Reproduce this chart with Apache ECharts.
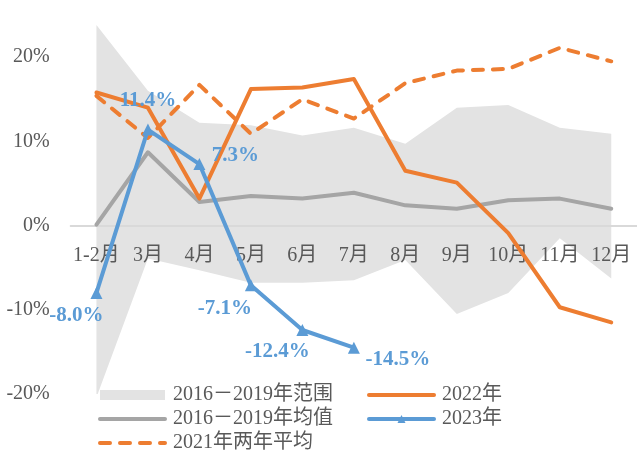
<!DOCTYPE html>
<html lang="zh">
<head>
<meta charset="UTF-8">
<title>2016-2023 月度增速</title>
<script src="https://cdn.jsdelivr.net/npm/echarts@6/dist/echarts.min.js"></script>
<style>
  html, body { margin: 0; padding: 0; background: #fff; }
  #main { width: 637px; height: 453px; }
</style>
</head>
<body>
<div id="main"></div>
<script>
// 月份
var months = ['1-2月', '3月', '4月', '5月', '6月', '7月', '8月', '9月', '10月', '11月', '12月'];
// 2016-2019 范围（上下限）
var rangeHigh = [23.8, 16.0, 12.2, 11.9, 10.7, 11.6, 9.7, 14.0, 14.3, 11.6, 10.9];
var rangeLow  = [-20.4, -3.9, -5.3, -6.8, -6.8, -6.5, -4.1, -10.5, -8.0, -1.5, -6.3];
// 2016-2019 均值
var avgData = [0.1, 8.7, 2.8, 3.5, 3.2, 3.9, 2.4, 2.0, 3.0, 3.2, 2.0];
// 2022年
var y2022 = [15.8, 14.0, 3.2, 16.2, 16.4, 17.4, 6.5, 5.1, -0.9, -9.7, -11.5];
// 2021年两年平均
var y2021 = [15.4, 10.4, 16.7, 10.9, 15.0, 12.7, 16.9, 18.4, 18.6, 21.1, 19.5];
// 2023年
var y2023 = [-8.0, 11.4, 7.3, -7.1, -12.4, -14.5];
// y轴刻度
var yTicks = [-20, -10, 0, 10, 20];

// 2023 标签偏移（样式）
var labelOffsets = [[-20, 23], [0, -29], [36, -8], [-26, 23], [-25, 22], [44, 12]];

var serif = "'Liberation Serif', 'Times New Roman', 'Noto Sans CJK SC', serif";
var txtColor = '#595959';
var yMin = -20, yMax = 25;
var gridTop = 15, gridH = 379;

var rangeDiff = [];
for (var i = 0; i < rangeHigh.length; i++) {
  rangeDiff.push(+(rangeHigh[i] - rangeLow[i]).toFixed(2));
}
var d2023 = [];
for (var i = 0; i < y2023.length; i++) {
  d2023.push({ value: y2023[i], label: { offset: labelOffsets[i] } });
}
// x轴放在0%位置
var zeroOffset = -gridH * (0 - yMin) / (yMax - yMin);

var legendText = { fontFamily: serif, fontSize: 20, color: txtColor, lineHeight: 20, padding: [0, 0, 0, 3] };
var legendLine = { width: 4, cap: 'round' };
var noSymbol = { opacity: 0 };

var myChart = echarts.init(document.getElementById('main'));
var option = {
  animation: false,
  grid: { left: 70.7, top: gridTop, width: 572, height: gridH },
  legend: [
    {
      orient: 'vertical', left: 98, top: 385, itemGap: 4, padding: 0,
      itemWidth: 65, itemHeight: 10, textStyle: legendText, lineStyle: legendLine,
      data: [
        { name: '2016－2019年范围', icon: 'rect' },
        { name: '2016－2019年均值', itemStyle: noSymbol },
        { name: '2021年两年平均', itemStyle: noSymbol }
      ]
    },
    {
      orient: 'vertical', left: 367, top: 385, itemGap: 4, padding: 0,
      itemWidth: 65, itemHeight: 10, textStyle: legendText, lineStyle: legendLine,
      data: [{ name: '2022年', itemStyle: noSymbol }, '2023年']
    }
  ],
  xAxis: {
    type: 'category',
    data: months,
    boundaryGap: true,
    offset: zeroOffset,
    z: 1.5,
    axisLine: { onZero: false, lineStyle: { color: '#d9d9d9', width: 2 } },
    axisTick: { show: false },
    axisLabel: { fontFamily: serif, fontSize: 20, color: txtColor, margin: 20, interval: 0 }
  },
  yAxis: {
    type: 'value',
    min: yMin, max: yMax, interval: 10,
    splitLine: { show: false },
    axisLine: { show: false },
    axisTick: { show: false },
    axisLabel: {
      fontFamily: serif, fontSize: 20, color: txtColor, margin: 21,
      formatter: function (v) { return yTicks.indexOf(v) >= 0 ? v + '%' : ''; }
    }
  },
  series: [
    {
      name: 'low', type: 'line', stack: 'range', stackStrategy: 'all', z: 1,
      data: rangeLow, symbol: 'none', lineStyle: { width: 0, opacity: 0 }, silent: true
    },
    {
      name: '2016－2019年范围', type: 'line', stack: 'range', stackStrategy: 'all', z: 1,
      data: rangeDiff, symbol: 'none',
      lineStyle: { width: 0, opacity: 0 },
      itemStyle: { color: '#e3e3e3' },
      areaStyle: { color: '#e3e3e3', opacity: 1 }
    },
    {
      name: '2016－2019年均值', type: 'line', data: avgData, symbol: 'none',
      itemStyle: { color: '#a5a5a5' },
      lineStyle: { color: '#a5a5a5', width: 4, cap: 'round', join: 'round' }
    },
    {
      name: '2022年', type: 'line', data: y2022, symbol: 'none',
      itemStyle: { color: '#ed7d31' },
      lineStyle: { color: '#ed7d31', width: 4, cap: 'round', join: 'round' }
    },
    {
      name: '2021年两年平均', type: 'line', data: y2021, symbol: 'none',
      itemStyle: { color: '#ed7d31' },
      lineStyle: { color: '#ed7d31', width: 4, type: [10, 10], cap: 'round', join: 'round' }
    },
    {
      name: '2023年', type: 'line', data: d2023,
      symbol: 'triangle', symbolSize: 12, showSymbol: true,
      itemStyle: { color: '#5b9bd5' },
      lineStyle: { color: '#5b9bd5', width: 4, cap: 'round', join: 'round' },
      label: {
        show: true, position: 'inside',
        fontFamily: serif, fontSize: 21, fontWeight: 'bold', color: '#5b9bd5',
        formatter: function (p) { return p.value.toFixed(1) + '%'; }
      }
    }
  ]
};
myChart.setOption(option);
</script>
</body>
</html>
